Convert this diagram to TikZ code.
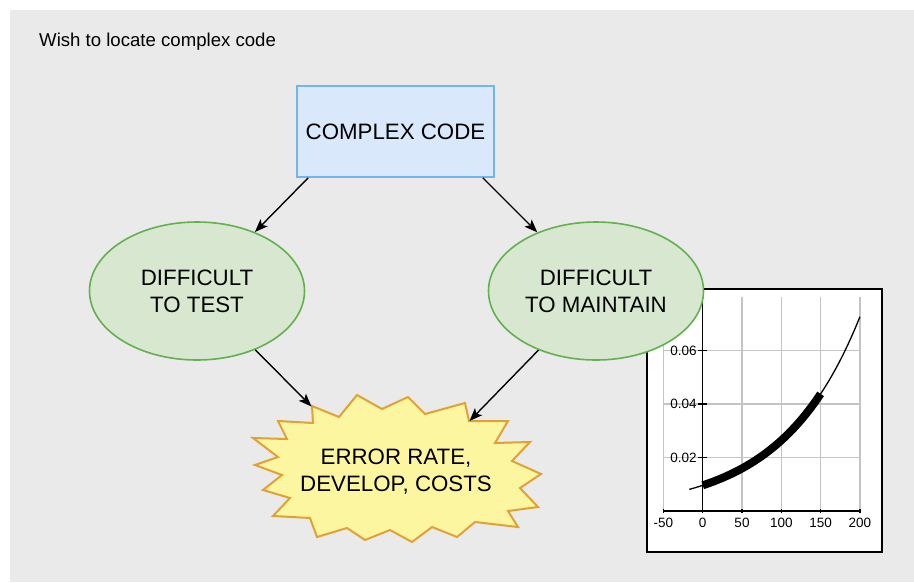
\documentclass[tikz,border=0pt]{standalone}
\usepackage{fontspec}
\setmainfont{Liberation Sans}
\usetikzlibrary{arrows.meta,shapes.geometric}
\definecolor{backgr}{HTML}{EAEAEA}
\definecolor{codeblue}{HTML}{DAE8FC}
\definecolor{codeline}{HTML}{72B5EE}
\definecolor{riskgreen}{HTML}{D8E8D0}
\definecolor{riskline}{HTML}{62B04F}
\definecolor{costfill}{HTML}{FDF6A0}
\definecolor{costline}{HTML}{E0A235}
\definecolor{gridgray}{HTML}{C4C4C4}
\newcommand{\bigfont}{\fontsize{22.3}{27}\selectfont}
\newcommand{\tickfont}{\fontsize{13.5}{15}\selectfont}
\tikzset{
  codebox/.style={rectangle, draw=codeline, line width=1.6pt, fill=codeblue,
                  align=center, font=\bigfont, minimum width=197pt, minimum height=91pt},
  oval/.style={ellipse, draw=riskline, line width=1.6pt, fill=riskgreen, inner sep=0pt,
               align=center, font=\bigfont, minimum width=215pt, minimum height=138pt},
  burst/.style={draw=costline, line width=2pt, fill=costfill, line join=miter},
  arr/.style={-{Stealth[length=13pt,width=10pt,inset=3pt]}, line width=1.4pt},
  ticklabel/.style={font=\tickfont, inner sep=0pt},
  gridline/.style={draw=gridgray, line width=1.5pt},
}

\begin{document}
\begin{tikzpicture}[x=1pt, y=-1pt]
  \useasboundingbox (0,0) rectangle (914,582);
  \fill[backgr] (10,10) rectangle (914,582);
  \node[anchor=base west, inner sep=0pt, font=\fontsize{18.6}{22}\selectfont] (title) at (39,46.7)
    {Wish to locate complex code};

  % small plot, partly hidden behind the right oval
  \draw[fill=white, line width=2pt] (647,289) rectangle (882,552);
  \begin{scope}[shift={(702.7,511)}, xscale=0.786, yscale=-26.75]
    \foreach \x in {-50,0,...,200} \draw[gridline] (\x,0) -- (\x,8);
    \foreach \y in {2,4,6} \draw[gridline] (-50,\y) -- (200,\y);
    \draw[line width=1.4pt] (-50,0) -- (200,0);
    \draw[line width=1.4pt] (0,0) -- (0,8);
    \foreach \x in {-50,0,...,200} {
      \draw[line width=1.2pt] (\x,-0.09) -- (\x,0.09);
      \node[ticklabel, anchor=base] at (\x,-0.6) {\x};
    }
    \foreach \y in {2,4,6} {
      \draw[line width=1.2pt] (-5.5,\y) -- (5,\y);
      \node[ticklabel, anchor=east] at (-7.6,\y) {0.0\y};
    }
    \draw[line width=1.3pt, domain=-17:200, samples=60, smooth] plot (\x, {0.96*exp(0.01012*\x)});
    \draw[line width=8pt, domain=0:150, samples=40, smooth] plot (\x, {0.96*exp(0.01012*\x)});
  \end{scope}

  \node[codebox] (cx) at (395.5,131.5) {COMPLEX CODE};
  \node[oval] (tst) at (197,291) {DIFFICULT\\TO TEST};
  \node[oval] (mnt) at (596,291) {DIFFICULT\\TO MAINTAIN};

  % jagged outline around the outcome
  \draw[burst] (312,406) -- (339,417) -- (357,395) -- (382,409) -- (408,397) -- (425,414)
    -- (465,403) -- (469,421) -- (508,421) -- (495,443) -- (530,442) -- (512,461)
    -- (541,474) -- (520,488) -- (538,507) -- (508,511) -- (518,527) -- (475,522)
    -- (457,537) -- (432,527) -- (412,542) -- (390,530) -- (365,540) -- (347,528)
    -- (317,537) -- (310,518) -- (273,516) -- (290,498) -- (263,490) -- (282,475)
    -- (255,465) -- (278,457) -- (253,438) -- (287,439) -- (278,421) -- (313,423) -- cycle;
  \coordinate (hitl) at (311.5,406.5);
  \coordinate (hitr) at (469.5,421);
  \node[align=center, font=\bigfont] (err) at (396,472) {ERROR RATE,\\DEVELOP, COSTS};

  \draw[arr] ([xshift=12pt]cx.south west) -- (tst);
  \draw[arr] ([xshift=-12pt]cx.south east) -- (mnt);
  \draw[arr] (tst) -- (hitl);
  \draw[arr] (mnt) -- (hitr);
\end{tikzpicture}
\end{document}
